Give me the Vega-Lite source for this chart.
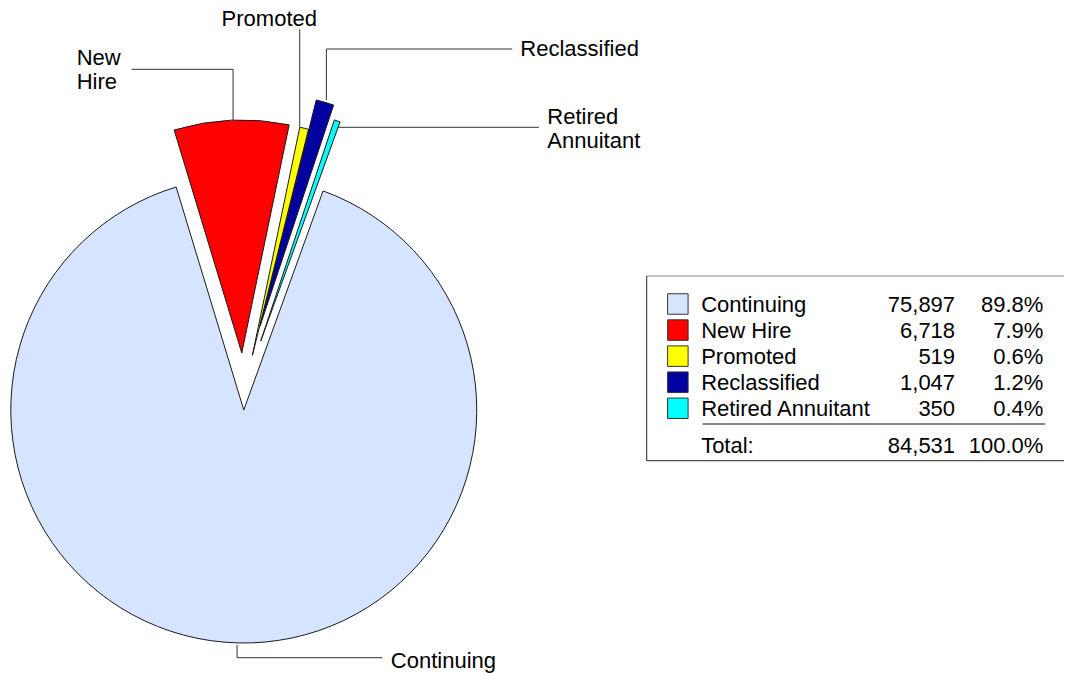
{
  "$schema": "https://vega.github.io/schema/vega-lite/v6.json",
  "width": 1065,
  "height": 673,
  "autosize": {"type": "fit", "contains": "padding"},
  "padding": 0,
  "background": "white",
  "config": {"view": {"stroke": null}, "font": "Liberation Sans"},
  "data": {"values": [
    {"category": "Continuing", "count": 75897, "pct": 0.898},
    {"category": "New Hire", "count": 6718, "pct": 0.079},
    {"category": "Promoted", "count": 519, "pct": 0.006},
    {"category": "Reclassified", "count": 1047, "pct": 0.012},
    {"category": "Retired Annuitant", "count": 350, "pct": 0.004}
  ]},
  "resolve": {"scale": {"y": "independent"}},
  "layer": [
    {
      "layer": [
        {
          "transform": [{"stack": "count", "groupby": [], "sort": [{"field": "category", "order": "ascending"}], "as": ["t0", "t1"]}, {"filter": "datum.category === 'Continuing'"}],
          "mark": {"type": "arc", "outerRadius": 233, "stroke": "#1a1a1a", "strokeWidth": 1},
          "encoding": {
            "theta": {"field": "t0", "type": "quantitative", "stack": null, "scale": {"domain": [0, 84531], "range": [0.3473, 6.6305]}},
            "theta2": {"field": "t1"},
            "x": {"datum": 0, "type": "quantitative", "scale": {"domain": [-1.04721, 3.52361], "nice": false, "zero": false}, "axis": null},
            "y": {"datum": 0, "type": "quantitative", "scale": {"domain": [-1.12876, 1.75966], "nice": false, "zero": false}, "axis": null},
            "color": {"field": "category", "type": "nominal", "scale": {"domain": ["Continuing", "New Hire", "Promoted", "Reclassified", "Retired Annuitant"], "range": ["#D6E5FF", "#FF0000", "#FFFF00", "#0000A0", "#00FFFF"]}, "legend": null}
          }
        },
        {
          "transform": [{"stack": "count", "groupby": [], "sort": [{"field": "category", "order": "ascending"}], "as": ["t0", "t1"]}, {"filter": "datum.category === 'New Hire'"}],
          "mark": {"type": "arc", "outerRadius": 233, "stroke": "#1a1a1a", "strokeWidth": 1, "xOffset": -2, "yOffset": -57},
          "encoding": {
            "theta": {"field": "t0", "type": "quantitative", "stack": null},
            "theta2": {"field": "t1"},
            "x": {"datum": 0, "type": "quantitative"},
            "y": {"datum": 0, "type": "quantitative"},
            "color": {"field": "category", "type": "nominal", "legend": null}
          }
        },
        {
          "transform": [{"stack": "count", "groupby": [], "sort": [{"field": "category", "order": "ascending"}], "as": ["t0", "t1"]}, {"filter": "datum.category === 'Promoted'"}],
          "mark": {"type": "arc", "outerRadius": 233, "stroke": "#1a1a1a", "strokeWidth": 1, "xOffset": 8.6, "yOffset": -54.6},
          "encoding": {
            "theta": {"field": "t0", "type": "quantitative", "stack": null},
            "theta2": {"field": "t1"},
            "x": {"datum": 0, "type": "quantitative"},
            "y": {"datum": 0, "type": "quantitative"},
            "color": {"field": "category", "type": "nominal", "legend": null}
          }
        },
        {
          "transform": [{"stack": "count", "groupby": [], "sort": [{"field": "category", "order": "ascending"}], "as": ["t0", "t1"]}, {"filter": "datum.category === 'Retired Annuitant'"}],
          "mark": {"type": "arc", "outerRadius": 233, "stroke": "#1a1a1a", "strokeWidth": 1, "xOffset": 17, "yOffset": -69},
          "encoding": {
            "theta": {"field": "t0", "type": "quantitative", "stack": null},
            "theta2": {"field": "t1"},
            "x": {"datum": 0, "type": "quantitative"},
            "y": {"datum": 0, "type": "quantitative"},
            "color": {"field": "category", "type": "nominal", "legend": null}
          }
        },
        {
          "transform": [{"stack": "count", "groupby": [], "sort": [{"field": "category", "order": "ascending"}], "as": ["t0", "t1"]}, {"filter": "datum.category === 'Reclassified'"}],
          "mark": {"type": "arc", "outerRadius": 233, "stroke": "#1a1a1a", "strokeWidth": 1, "xOffset": 16.3, "yOffset": -83.9},
          "encoding": {
            "theta": {"field": "t0", "type": "quantitative", "stack": null},
            "theta2": {"field": "t1"},
            "x": {"datum": 0, "type": "quantitative"},
            "y": {"datum": 0, "type": "quantitative"},
            "color": {"field": "category", "type": "nominal", "legend": null}
          }
        },
        {"data": {"values": [{}]}, "mark": {"type": "rule", "color": "#333", "strokeWidth": 1},
         "encoding": {"x": {"datum": -0.0459, "type": "quantitative"}, "y": {"datum": 1.2416, "type": "quantitative"}, "y2": {"datum": 1.4622}}},
        {"data": {"values": [{}]}, "mark": {"type": "rule", "color": "#333", "strokeWidth": 1},
         "encoding": {"x": {"datum": -0.4820, "type": "quantitative"}, "x2": {"datum": -0.0459}, "y": {"datum": 1.4622, "type": "quantitative"}}},
        {"data": {"values": [{}]}, "mark": {"type": "rule", "color": "#333", "strokeWidth": 1},
         "encoding": {"x": {"datum": 0.2403, "type": "quantitative"}, "y": {"datum": 1.2159, "type": "quantitative"}, "y2": {"datum": 1.6339}}},
        {"data": {"values": [{}]}, "mark": {"type": "rule", "color": "#333", "strokeWidth": 1},
         "encoding": {"x": {"datum": 0.3549, "type": "quantitative"}, "y": {"datum": 1.3305, "type": "quantitative"}, "y2": {"datum": 1.5494}}},
        {"data": {"values": [{}]}, "mark": {"type": "rule", "color": "#333", "strokeWidth": 1},
         "encoding": {"x": {"datum": 0.3549, "type": "quantitative"}, "x2": {"datum": 1.1532}, "y": {"datum": 1.5494, "type": "quantitative"}}},
        {"data": {"values": [{}]}, "mark": {"type": "rule", "color": "#333", "strokeWidth": 1},
         "encoding": {"x": {"datum": 0.4047, "type": "quantitative"}, "x2": {"datum": 1.2674}, "y": {"datum": 1.2133, "type": "quantitative"}}},
        {"data": {"values": [{}]}, "mark": {"type": "rule", "color": "#333", "strokeWidth": 1},
         "encoding": {"x": {"datum": -0.0288, "type": "quantitative"}, "y": {"datum": -1.0086, "type": "quantitative"}, "y2": {"datum": -1.0631}}},
        {"data": {"values": [{}]}, "mark": {"type": "rule", "color": "#333", "strokeWidth": 1},
         "encoding": {"x": {"datum": -0.0288, "type": "quantitative"}, "x2": {"datum": 0.5953}, "y": {"datum": -1.0631, "type": "quantitative"}}},
        {"data": {"values": [{}]}, "mark": {"type": "rule", "color": "#8a8a8a", "strokeWidth": 1},
         "encoding": {"x": {"datum": 1.7309, "type": "quantitative"}, "x2": {"datum": 3.5236}, "y": {"datum": 0.5751, "type": "quantitative"}}},
        {"data": {"values": [{}]}, "mark": {"type": "rule", "color": "#222", "strokeWidth": 1},
         "encoding": {"x": {"datum": 1.7309, "type": "quantitative"}, "y": {"datum": 0.5751, "type": "quantitative"}, "y2": {"datum": -0.2176}}},
        {"data": {"values": [{}]}, "mark": {"type": "rule", "color": "#222", "strokeWidth": 1},
         "encoding": {"x": {"datum": 1.7309, "type": "quantitative"}, "x2": {"datum": 3.5236}, "y": {"datum": -0.2176, "type": "quantitative"}}},
        {"data": {"values": [{}]}, "mark": {"type": "rule", "color": "#111", "strokeWidth": 1},
         "encoding": {"x": {"datum": 1.9712, "type": "quantitative"}, "x2": {"datum": 3.4421}, "y": {"datum": -0.0601, "type": "quantitative"}}},
        {"transform": [{"filter": "datum.category === 'Promoted'"}],
         "mark": {"type": "text", "align": "left", "baseline": "alphabetic", "fontSize": 22, "color": "#000"},
         "encoding": {"text": {"field": "category"}, "x": {"datum": -0.0953, "type": "quantitative"}, "y": {"datum": 1.6494, "type": "quantitative"}}},
        {"transform": [{"filter": "datum.category === 'New Hire'"}],
         "mark": {"type": "text", "align": "left", "baseline": "alphabetic", "fontSize": 22, "color": "#000", "lineBreak": " ", "lineHeight": 24.3},
         "encoding": {"text": {"field": "category"}, "x": {"datum": -0.7176, "type": "quantitative"}, "y": {"datum": 1.4807, "type": "quantitative"}}},
        {"transform": [{"filter": "datum.category === 'Reclassified'"}],
         "mark": {"type": "text", "align": "left", "baseline": "alphabetic", "fontSize": 22, "color": "#000"},
         "encoding": {"text": {"field": "category"}, "x": {"datum": 1.1880, "type": "quantitative"}, "y": {"datum": 1.5193, "type": "quantitative"}}},
        {"transform": [{"filter": "datum.category === 'Retired Annuitant'"}],
         "mark": {"type": "text", "align": "left", "baseline": "alphabetic", "fontSize": 22, "color": "#000", "lineBreak": " ", "lineHeight": 23.7},
         "encoding": {"text": {"field": "category"}, "x": {"datum": 1.3039, "type": "quantitative"}, "y": {"datum": 1.2275, "type": "quantitative"}}},
        {"transform": [{"filter": "datum.category === 'Continuing'"}],
         "mark": {"type": "text", "align": "left", "baseline": "alphabetic", "fontSize": 22, "color": "#000"},
         "encoding": {"text": {"field": "category"}, "x": {"datum": 0.6318, "type": "quantitative"}, "y": {"datum": -1.1086, "type": "quantitative"}}}
      ]
    },
    {
      "layer": [
        {
          "mark": {"type": "point", "shape": "square", "size": 420, "filled": true, "opacity": 1, "stroke": "#333", "strokeWidth": 1},
          "encoding": {
            "x": {"datum": 1.8648, "type": "quantitative"},
            "y": {"field": "category", "type": "nominal", "axis": null, "scale": {"type": "point", "domain": ["Continuing", "New Hire", "Promoted", "Reclassified", "Retired Annuitant", "Total:"], "range": [304, 434.35], "padding": 0}},
            "fill": {"field": "category", "type": "nominal", "scale": {"domain": ["Continuing", "New Hire", "Promoted", "Reclassified", "Retired Annuitant"], "range": ["#D6E5FF", "#FF0000", "#FFFF00", "#0000A0", "#00FFFF"]}, "legend": null}
          }
        },
        {
          "mark": {"type": "text", "align": "left", "baseline": "alphabetic", "fontSize": 22, "dy": 8, "color": "#000"},
          "encoding": {"text": {"field": "category"}, "x": {"datum": 1.9648, "type": "quantitative"}, "y": {"field": "category", "type": "nominal"}}
        },
        {
          "mark": {"type": "text", "align": "right", "baseline": "alphabetic", "fontSize": 22, "dy": 8, "color": "#000"},
          "encoding": {"text": {"field": "count", "type": "quantitative", "format": ","}, "x": {"datum": 3.0558, "type": "quantitative"}, "y": {"field": "category", "type": "nominal"}}
        },
        {
          "mark": {"type": "text", "align": "right", "baseline": "alphabetic", "fontSize": 22, "dy": 8, "color": "#000"},
          "encoding": {"text": {"field": "pct", "type": "quantitative", "format": ".1%"}, "x": {"datum": 3.4348, "type": "quantitative"}, "y": {"field": "category", "type": "nominal"}}
        },
        {
          "transform": [{"aggregate": [{"op": "sum", "field": "count", "as": "total"}]}],
          "mark": {"type": "text", "align": "left", "baseline": "alphabetic", "fontSize": 22, "dy": 18.35, "color": "#000", "text": "Total:"},
          "encoding": {"x": {"datum": 1.9648, "type": "quantitative"}, "y": {"datum": "Total:", "type": "nominal"}}
        },
        {
          "transform": [{"aggregate": [{"op": "sum", "field": "count", "as": "total"}]}],
          "mark": {"type": "text", "align": "right", "baseline": "alphabetic", "fontSize": 22, "dy": 18.35, "color": "#000"},
          "encoding": {"text": {"field": "total", "type": "quantitative", "format": ","}, "x": {"datum": 3.0558, "type": "quantitative"}, "y": {"datum": "Total:", "type": "nominal"}}
        },
        {
          "transform": [{"aggregate": [{"op": "sum", "field": "count", "as": "total"}]}],
          "mark": {"type": "text", "align": "right", "baseline": "alphabetic", "fontSize": 22, "dy": 18.35, "color": "#000", "text": "100.0%"},
          "encoding": {"x": {"datum": 3.4348, "type": "quantitative"}, "y": {"datum": "Total:", "type": "nominal"}}
        }
      ]
    }
  ]
}
